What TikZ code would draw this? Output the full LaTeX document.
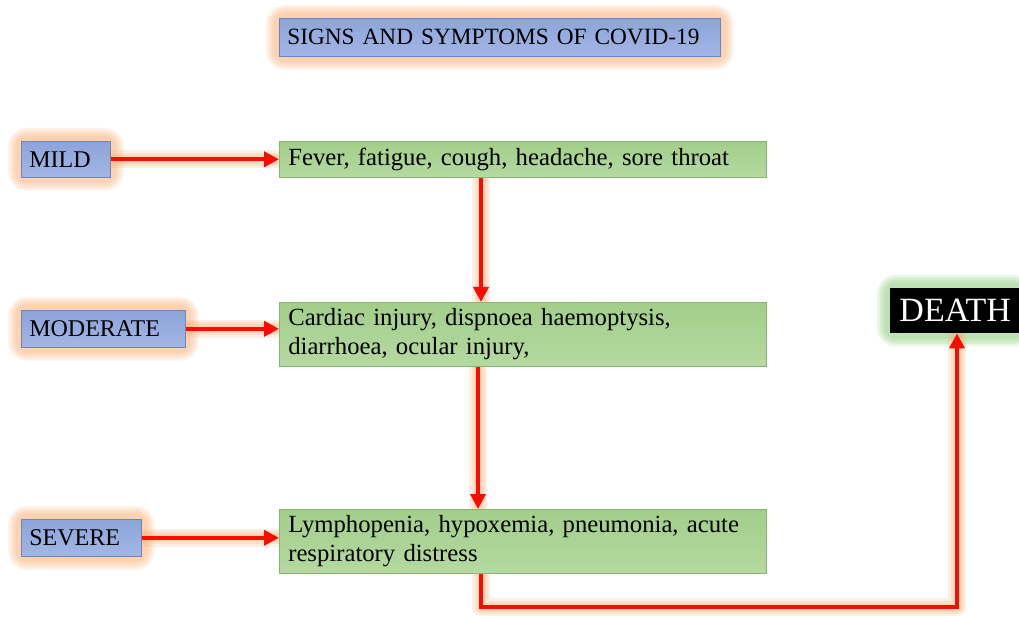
\documentclass[tikz,border=0pt]{standalone}
\usepackage{fontspec}
\setmainfont{Liberation Serif}
\usetikzlibrary{arrows.meta,backgrounds}
\definecolor{bluetop}{HTML}{8DA4DA}
\definecolor{bluebot}{HTML}{A3B6E4}
\definecolor{blueline}{HTML}{6E85B7}
\definecolor{greentop}{HTML}{A3CE89}
\definecolor{greenbot}{HTML}{B5D9A2}
\definecolor{greenline}{HTML}{87B56E}
\definecolor{glowor}{HTML}{F7A768}
\definecolor{glowgr}{HTML}{7CC463}
\definecolor{arrred}{HTML}{FF0A00}
\tikzset{
  x=1pt,y=1pt,
  lvlbox/.style={draw=blueline, line width=0.6pt, top color=bluetop, bottom color=bluebot,
    anchor=north west, inner xsep=8pt, inner ysep=0pt, align=left, font=\fontsize{24}{28}\selectfont},
  symbox/.style={draw=greenline, line width=0.6pt, top color=greentop, bottom color=greenbot,
    anchor=north west, inner xsep=9pt, inner ysep=0pt, align=left, text width=469pt,
    font=\fontsize{24.7}{29}\selectfont},
  flow/.style={draw=arrred, line width=4pt, -{Triangle[length=15pt,width=15pt]}},
}
\newcommand\boxglow[2]{%
  \foreach \w in {22,17,12,7}{%
    \draw[#2, opacity=0.16, line width=\w pt, rounded corners=8pt]
      ([xshift=-2pt,yshift=-2pt]#1.south west) rectangle ([xshift=2pt,yshift=2pt]#1.north east);}}
\newcommand\lineglow[1]{%
  \foreach \w in {18,13,9}{%
    \draw[glowor, opacity=0.18, line width=\w pt, line cap=round, line join=round] #1;}}
\begin{document}
\begin{tikzpicture}
\useasboundingbox (0,0) rectangle (1019,-617);
% title
\node[lvlbox, minimum width=441pt, minimum height=38pt, text width=425pt] (title) at (279,-18)
  {\fontsize{23.3}{26}\selectfont SIGNS AND SYMPTOMS OF COVID-19};
% level boxes
\node[lvlbox, minimum width=89pt, minimum height=36pt, text width=73pt] (mild) at (21,-141) {MILD};
\node[lvlbox, minimum width=164pt, minimum height=37pt, text width=148pt] (moderate) at (21,-310) {MODERATE};
\node[lvlbox, minimum width=120pt, minimum height=37pt, text width=104pt] (severe) at (21,-519) {SEVERE};
% symptom boxes
\node[symbox, minimum width=487pt, minimum height=36pt] (s1) at (279,-141)
  {Fever, fatigue, cough, headache, sore throat};
\node[symbox, minimum width=487pt, minimum height=64pt] (s2) at (279,-302)
  {Cardiac injury, dispnoea haemoptysis,\\diarrhoea, ocular injury,};
\node[symbox, minimum width=487pt, minimum height=64pt] (s3) at (279,-509)
  {Lymphopenia, hypoxemia, pneumonia, acute\\respiratory distress};
% death
\node[fill=black, text=white, anchor=north west, minimum width=130pt, minimum height=45pt,
  inner sep=0pt, font=\fontsize{34}{36}\selectfont] (death) at (890,-288) {DEATH};
\coordinate (c1) at (481,-607);
\coordinate (c2) at (957,-607);
% connectors
\draw[flow] (mild.east) -- (mild.east -| s1.west);
\draw[flow] (moderate.east) -- (moderate.east -| s2.west);
\draw[flow] (severe.east) -- (severe.east -| s3.west);
\draw[flow] (s1.south -| 481,0) -- (s2.north -| 481,0);
\draw[flow] (s2.south -| 478,0) -- (s3.north -| 478,0);
\draw[flow, line join=miter] (s3.south -| c1) -- (c1) -- (c2) -- (death.south -| c2);
% glows
\begin{scope}[on background layer]
  \boxglow{title}{glowor}
  \boxglow{mild}{glowor}
  \boxglow{moderate}{glowor}
  \boxglow{severe}{glowor}
  \boxglow{death}{glowgr}
  \lineglow{(mild.east) -- (mild.east -| s1.west)}
  \lineglow{(moderate.east) -- (moderate.east -| s2.west)}
  \lineglow{(severe.east) -- (severe.east -| s3.west)}
  \lineglow{(s1.south -| 481,0) -- (s2.north -| 481,0)}
  \lineglow{(s2.south -| 478,0) -- (s3.north -| 478,0)}
  \lineglow{(s3.south -| c1) -- (c1) -- (c2) -- (death.south -| c2)}
\end{scope}
\end{tikzpicture}
\end{document}
